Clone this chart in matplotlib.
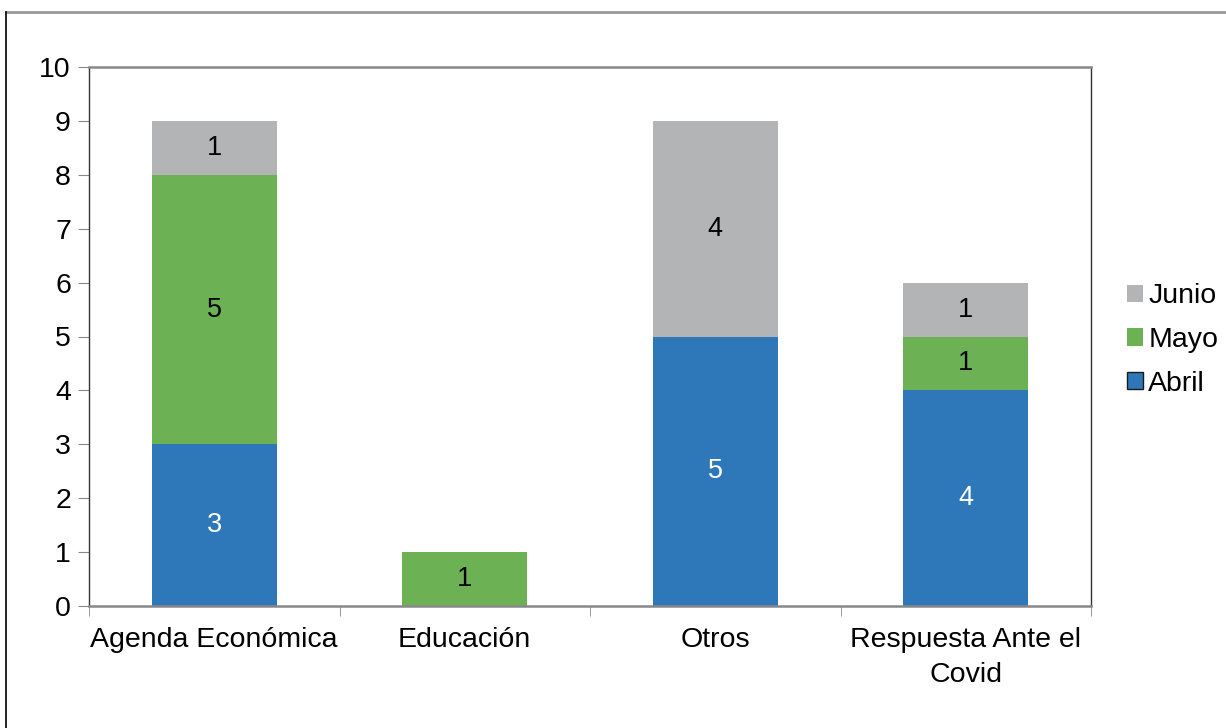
import matplotlib.pyplot as plt
import numpy as np
from matplotlib.patches import Rectangle

plt.rcParams['font.family'] = ['Liberation Sans', 'DejaVu Sans']

categories = ['Agenda Económica', 'Educación', 'Otros', 'Respuesta Ante el\nCovid']
abril = [3, 0, 5, 4]
mayo = [5, 1, 0, 1]
junio = [1, 0, 4, 1]

c_abril = '#2E78BA'
c_mayo = '#6DB155'
c_junio = '#B2B4B5'

fig = plt.figure(figsize=(12.26, 7.28), dpi=100)
# outer frame (top and left edges visible)
fig.add_artist(plt.Line2D([6 / 1226, 1], [1 - 12 / 728, 1 - 12 / 728], color='#999999', lw=2))
fig.add_artist(plt.Line2D([6 / 1226, 6 / 1226], [0, 1 - 12 / 728], color='black', lw=1.2))

ax = fig.add_axes([89 / 1226, 1 - 606 / 728, (1091 - 89) / 1226, (606 - 67) / 728])
x = np.arange(len(categories))
w = 0.5
bottom = np.zeros(len(categories))
series = [('Abril', abril, c_abril, 'white'),
          ('Mayo', mayo, c_mayo, 'black'),
          ('Junio', junio, c_junio, 'black')]
for name, vals, col, tcol in series:
    vals = np.array(vals, dtype=float)
    ax.bar(x, vals, w, bottom=bottom, color=col, label=name)
    for xi, b, v in zip(x, bottom, vals):
        if v > 0:
            ax.text(xi, b + v / 2, f'{int(v)}', ha='center', va='center',
                    color=tcol, fontsize=19.5)
    bottom += vals

ax.set_xlim(-0.5, len(categories) - 0.5)
ax.set_ylim(0, 10)
ax.set_yticks(range(0, 11))
ax.tick_params(axis='y', labelsize=20.5, length=8, color='#888888', direction='out', pad=5)
ax.set_xticks(x)
ax.set_xticklabels(categories, fontsize=20.5, linespacing=1.45)
ax.tick_params(axis='x', length=0, pad=15)
ax.set_xticks(np.arange(-0.5, len(categories)), minor=True)
ax.tick_params(axis='x', which='minor', length=7, color='#888888', direction='out')

for s in ['top', 'bottom']:
    ax.spines[s].set_color('#888888')
    ax.spines[s].set_linewidth(1.8)
for s in ['left', 'right']:
    ax.spines[s].set_color('#333333')
    ax.spines[s].set_linewidth(1.0)

handles = [Rectangle((0, 0), 1, 1, facecolor=c_junio),
           Rectangle((0, 0), 1, 1, facecolor=c_mayo),
           Rectangle((0, 0), 1, 1, facecolor=c_abril, edgecolor='#1a1a1a', lw=1)]
fig.legend(handles, ['Junio', 'Mayo', 'Abril'], loc='center left',
           bbox_to_anchor=(1127 / 1226, 1 - 340 / 728), frameon=False, borderpad=0,
           borderaxespad=0, fontsize=20.5, handlelength=0.55, handleheight=0.55,
           handletextpad=0.2, labelspacing=0.62)

fig.savefig('out.png', dpi=100)
